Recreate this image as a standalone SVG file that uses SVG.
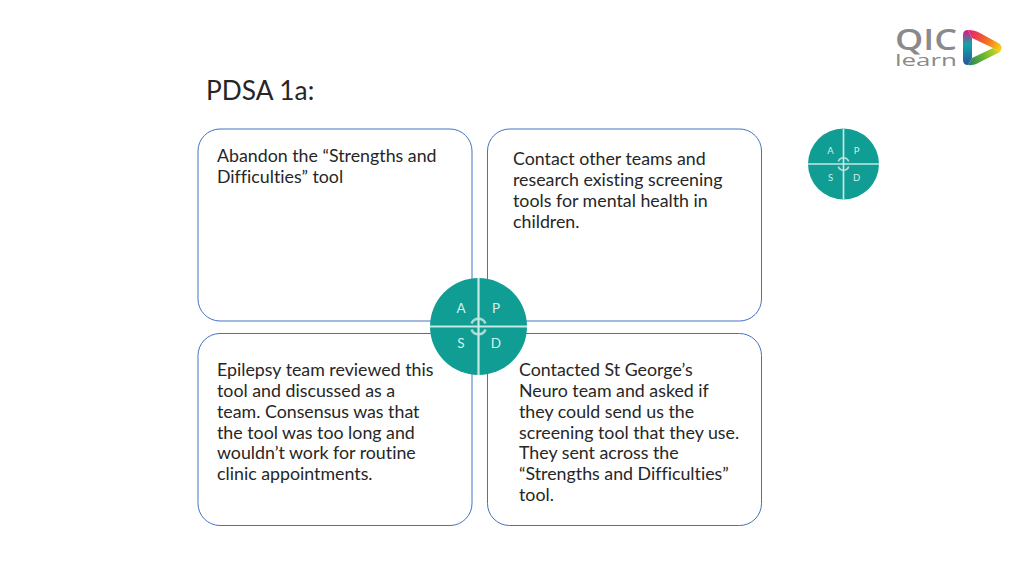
<svg xmlns="http://www.w3.org/2000/svg" width="1024" height="576" viewBox="0 0 1024 576">
<style>
.box{fill:#fff;stroke:#4472c4;stroke-width:1}
.t{font-family:Lato,"Open Sans",sans-serif;font-size:17.8px;fill:#262626;font-variant-ligatures:none}
.seg{fill:#0f9d94}
.div{stroke:#c8e8e4;fill:none}
.ring{stroke:#a9dcd6;fill:none}
.l{font-family:Lato,"Open Sans",sans-serif;fill:#d5f0ec;text-anchor:middle}
.logo{font-family:"Open Sans",sans-serif;fill:#8a8a8a}
</style>
<defs>
<linearGradient id="g1" gradientUnits="userSpaceOnUse" x1="967" y1="30" x2="967" y2="66"><stop offset="0" stop-color="#e6127e"/><stop offset=".4" stop-color="#12a5a8"/><stop offset="1" stop-color="#2a4fa0"/></linearGradient>
<linearGradient id="g2" gradientUnits="userSpaceOnUse" x1="965" y1="32" x2="1002" y2="48"><stop offset="0" stop-color="#e6127e"/><stop offset=".6" stop-color="#f2701e"/><stop offset="1" stop-color="#f4d81c"/></linearGradient>
<linearGradient id="g3" gradientUnits="userSpaceOnUse" x1="967" y1="65" x2="1002" y2="48"><stop offset="0" stop-color="#1c7f6a"/><stop offset=".5" stop-color="#6cb82e"/><stop offset="1" stop-color="#eee01c"/></linearGradient>
</defs>
<rect width="1024" height="576" fill="#fff"/>
<g id="logo">
<text class="logo" x="895" y="50" font-size="29" font-weight="600" textLength="62" lengthAdjust="spacingAndGlyphs">QIC</text>
<text class="logo" x="895" y="66" font-size="17" font-weight="500" textLength="62" lengthAdjust="spacingAndGlyphs">learn</text>
<path d="M968 30Q975 30 980 33L1000 44Q1003 48 1000 52L993 48L972 38Z" fill="url(#g2)"/>
<path d="M1000 52L980 62Q973 66 968 65L972 58L993 48Z" fill="url(#g3)"/>
<path d="M963 35Q963 30 968 30L972 38V58L968 65Q963 65 963 60Z" fill="url(#g1)"/>
</g>
<text id="title" x="206" y="100" font-family="Lato,'Open Sans',sans-serif" font-size="26.300px" fill="#262626">PDSA 1a:</text>
<g id="act">
<rect class="box" x="198" y="129" width="274" height="192" rx="22"/>
<text class="t"><tspan x="217" y="162">Abandon the “Strengths and</tspan><tspan x="217" y="183">Difficulties” tool</tspan></text>
</g>
<g id="plan">
<rect class="box" x="487.500" y="129" width="274" height="192" rx="22"/>
<text class="t"><tspan x="513" y="165">Contact other teams and</tspan><tspan x="513" y="186">research existing screening</tspan><tspan x="513" y="207">tools for mental health in</tspan><tspan x="513" y="228">children.</tspan></text>
</g>
<g id="study">
<rect class="box" x="198" y="333.500" width="274" height="192" rx="22"/>
<text class="t"><tspan x="217" y="376">Epilepsy team reviewed this</tspan><tspan x="217" y="397">tool and discussed as a</tspan><tspan x="217" y="418">team. Consensus was that</tspan><tspan x="217" y="438.500">the tool was too long and</tspan><tspan x="217" y="459">wouldn’t work for routine</tspan><tspan x="217" y="480">clinic appointments.</tspan></text>
</g>
<g id="do">
<rect class="box" x="487.500" y="333.500" width="274" height="192" rx="22"/>
<text class="t"><tspan x="519" y="376">Contacted St George’s</tspan><tspan x="519" y="397">Neuro team and asked if</tspan><tspan x="519" y="418">they could send us the</tspan><tspan x="519" y="438.500">screening tool that they use.</tspan><tspan x="519" y="459">They sent across the</tspan><tspan x="519" y="480">“Strengths and Difficulties”</tspan><tspan x="519" y="501">tool.</tspan></text>
</g>
<g id="cycle-large">
<circle class="seg" cx="478.500" cy="326.500" r="48.500"/>
<path class="ring" stroke-width="2.500" d="M471.500 323.500A7.500 7.500 0 0 1 485.500 323.500M485.500 329.500A7.500 7.500 0 0 1 471.500 329.500"/>
<path class="div" stroke-width="2.200" d="M478.500 278V375M430 326.500H527"/>
<text class="l" font-size="13.500" x="461" y="313">A</text>
<text class="l" font-size="13.500" x="496" y="313">P</text>
<text class="l" font-size="13.500" x="461" y="348">S</text>
<text class="l" font-size="13.500" x="496" y="348">D</text>
</g>
<g id="cycle-small">
<circle class="seg" cx="843.500" cy="164" r="35.500"/>
<path class="ring" stroke-width="1.800" d="M838.300 161.500A5.500 5.500 0 0 1 848.700 161.500M848.700 166.500A5.500 5.500 0 0 1 838.300 166.500"/>
<path class="div" stroke-width="1.700" d="M843.500 128.500V199.500M808 164H879"/>
<text class="l" font-size="9.500" x="830.500" y="154">A</text>
<text class="l" font-size="9.500" x="856.500" y="154">P</text>
<text class="l" font-size="9.500" x="830.500" y="180.500">S</text>
<text class="l" font-size="9.500" x="856.500" y="180.500">D</text>
</g>
</svg>
